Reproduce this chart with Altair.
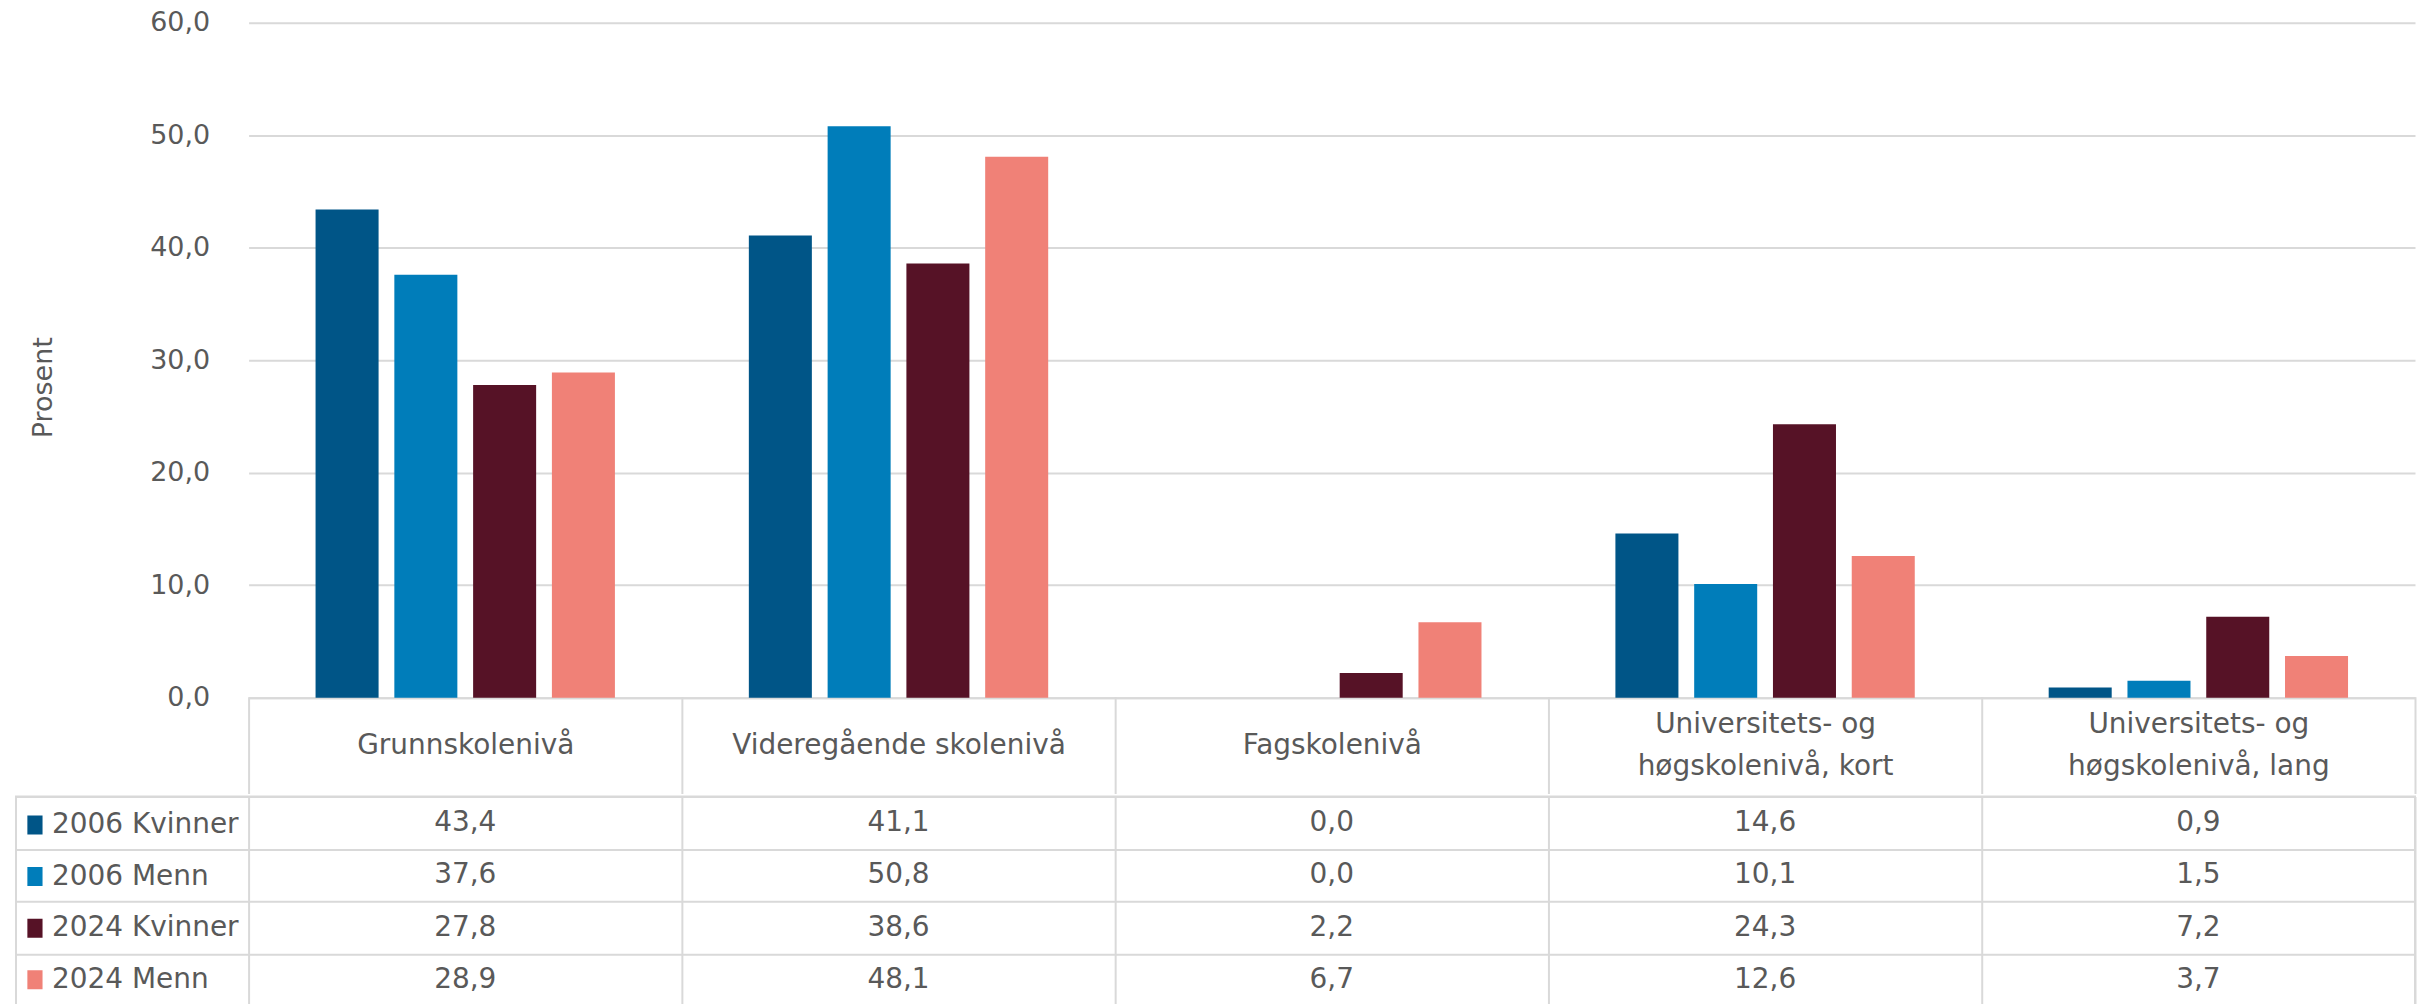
import altair as alt
import pandas as pd

categories = ["Grunnskolenivå", "Videregående skolenivå", "Fagskolenivå",
              "Universitets- og høgskolenivå, kort", "Universitets- og høgskolenivå, lang"]
series = ["2006 Kvinner", "2006 Menn", "2024 Kvinner", "2024 Menn"]
v_2006_kvinner = [43.4, 41.1, 0.0, 14.6, 0.9]
v_2006_menn = [37.6, 50.8, 0.0, 10.1, 1.5]
v_2024_kvinner = [27.8, 38.6, 2.2, 24.3, 7.2]
v_2024_menn = [28.9, 48.1, 6.7, 12.6, 3.7]
colors = ["#005587", "#007DBA", "#561226", "#F08177"]
y_ticks = [0, 10, 20, 30, 40, 50, 60]

rows = []
for s, vals in zip(series, [v_2006_kvinner, v_2006_menn, v_2024_kvinner, v_2024_menn]):
    for c, v in zip(categories, vals):
        rows.append({"kategori": c, "serie": s, "verdi": v,
                     "tekst": f"{v:.1f}".replace(".", ",")})
df = pd.DataFrame(rows)

FONT = "DejaVu Sans"
TXT = "#595959"
GRID = "#D9D9D9"
W = 2403
LEFTCOL = 233
PLOT_H = 676
HEADER_H = 95
TABLE_H = 210

# header labels: two-line labels are split after "og", single labels sit on the middle line
header_expr = ("indexof(datum.label, 'og ') >= 0 ? "
               "split(replace(datum.label, 'og ', 'og|\u200b|'), '|') : ['\u200b', datum.label]")

bars = alt.Chart(df).mark_bar().encode(
    x=alt.X("kategori:N",
            scale=alt.Scale(domain=categories, range=[LEFTCOL, W], paddingInner=0, paddingOuter=0),
            axis=alt.Axis(title=None, labelAngle=0, labelFont=FONT, labelFontSize=28, labelColor=TXT,
                          labelLimit=0, labelOverlap=False, labelBaseline="middle", labelLineHeight=21,
                          labelPadding=-68, labelExpr=header_expr,
                          domainColor=GRID, domainWidth=2, tickBand="extent", tickSize=HEADER_H,
                          tickColor=GRID, tickWidth=2, tickCap="square", grid=False)),
    xOffset=alt.XOffset("serie:N", scale=alt.Scale(domain=series, paddingInner=0.2, paddingOuter=0.85)),
    y=alt.Y("verdi:Q",
            scale=alt.Scale(domain=[0, 60], nice=False, zero=True),
            axis=alt.Axis(values=y_ticks, offset=-LEFTCOL, grid=True, gridColor=GRID, gridWidth=2,
                          domain=False, ticks=False, labelPadding=39, labelFont=FONT, labelFontSize=27,
                          labelColor=TXT,
                          labelExpr="replace(format(datum.value, '.1f'), '.', ',')",
                          title="Prosent", titleFont=FONT, titleFontSize=27, titleFontWeight="normal",
                          titleColor=TXT, titleX=-205, titleY=365, titleAngle=270,
                          titleAlign="center", titleBaseline="middle")),
    color=alt.Color("serie:N", scale=alt.Scale(domain=series, range=colors),
                    legend=alt.Legend(title=None, orient="none", legendX=5, legendY=790.5,
                                      direction="vertical", symbolType="M-0.8,-1H0.8V1H-0.8Z",
                                      symbolSize=361, symbolStrokeWidth=0, symbolOpacity=1,
                                      labelFont=FONT, labelFontSize=28, labelColor=TXT,
                                      labelOffset=3, labelLimit=0, rowPadding=23.7, clipHeight=26,
                                      padding=0, offset=0)),
).properties(width=W, height=PLOT_H)

table = alt.Chart(df).mark_text(font=FONT, fontSize=28, color=TXT).encode(
    x=alt.X("kategori:N",
            scale=alt.Scale(domain=categories, range=[LEFTCOL, W], paddingInner=0, paddingOuter=0),
            axis=alt.Axis(title=None, labels=False, ticks=False, domain=False, grid=True,
                          gridColor=GRID, gridWidth=2, tickBand="extent")),
    y=alt.Y("serie:N", scale=alt.Scale(domain=series, paddingInner=0, paddingOuter=0),
            axis=alt.Axis(title=None, labels=False, offset=-LEFTCOL, ticks=True, tickSize=LEFTCOL,
                          tickColor=GRID, tickWidth=2, tickBand="extent", domain=False, grid=True,
                          gridColor=GRID, gridWidth=2)),
    text="tekst:N",
).properties(width=W, height=TABLE_H, view=alt.ViewBackground(stroke=GRID, strokeWidth=2))

chart = alt.vconcat(bars, table, spacing=0).properties(
    padding={"left": 6, "top": 0, "right": 0, "bottom": 0}
).configure_view(strokeWidth=0)

chart.save("out.html", embed_options={"renderer": "svg", "actions": False})
